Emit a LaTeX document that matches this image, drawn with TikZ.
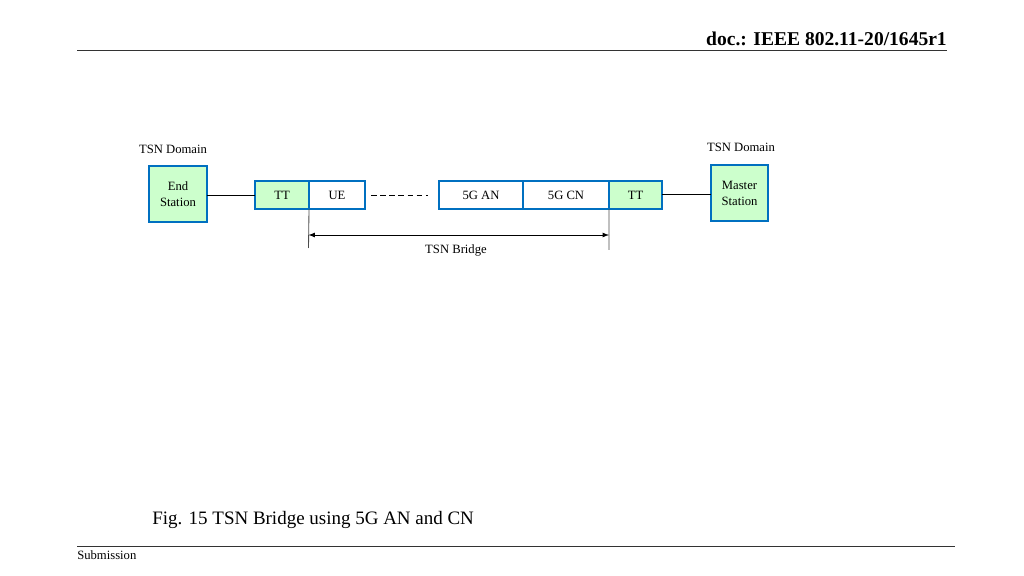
\documentclass[tikz,border=0pt]{standalone}
\usepackage{fontspec}
\setmainfont{Liberation Serif}
\usetikzlibrary{arrows, positioning}

\definecolor{boxblue}{RGB}{0,112,192}
\definecolor{boxgreen}{RGB}{204,255,204}

\begin{document}
\begin{tikzpicture}[
    x=0.025cm, y=-0.025cm,
    station/.style={
        rectangle,
        draw=boxblue,
        fill=boxgreen,
        line width=1.4pt,
        minimum width=1.43cm,
        minimum height=1.38cm,
        align=center,
        inner sep=0pt,
        outer sep=0pt,
        font=\fontsize{9}{11.4}\selectfont
    },
    cell/.style={
        rectangle,
        draw=boxblue,
        fill=white,
        line width=1.4pt,
        minimum height=0.7cm,
        inner sep=0pt,
        outer sep=0pt,
        font=\fontsize{9}{11}\selectfont
    },
    label/.style={
        font=\fontsize{9}{11}\selectfont
    },
    pagetext/.style={
        inner sep=0pt
    }
]
\useasboundingbox (0,0) rectangle (1024,576);

% page header and footer
\node[pagetext, anchor=base east, font=\fontsize{13.9}{16}\selectfont\bfseries] (docid) at (947,46) {doc.: IEEE 802.11-20/1645r1};
\draw[line width=0.6pt, black!80] (77,50.5) -- (947,50.5);
\draw[line width=0.6pt, black!80] (77,546) -- (955,546);
\node[pagetext, anchor=base west, font=\fontsize{9}{11}\selectfont] (submission) at (77,559) {Submission};
\node[pagetext, anchor=base west, font=\fontsize{13.5}{16}\selectfont] (caption) at (152,524) {Fig. 15 TSN Bridge using 5G AN and CN};

% stations
\node[station] (endst) at (178,194) {End\\Station};
\node[station] (master) at (739.5,193) {Master\\Station};
\node[label] (domleft) at (173,149) {TSN Domain};
\node[label] (domright) at (741,147) {TSN Domain};

% bridge cells
\node[cell, fill=boxgreen, minimum width=1.35cm] (ttl) at (282,195) {TT};
\node[cell, minimum width=1.4cm, right=0pt of ttl] (ue) {UE};
\node[cell, minimum width=2.1cm] (an) at (481,195) {5G AN};
\node[cell, minimum width=2.15cm, right=0pt of an] (cn) {5G CN};
\node[cell, fill=boxgreen, minimum width=1.33cm, right=0pt of cn] (ttr) {TT};

% links
\draw[line width=0.6pt] (endst.east |- ttl.west) -- (ttl.west);
\draw[line width=0.6pt] ([yshift=0.02cm]ttr.east) -- ([yshift=0.02cm]ttr.east -| master.west);
\draw[line width=0.6pt, dash pattern=on 4pt off 2.5pt] ([xshift=0.15cm]ue.east) -- ([xshift=-0.27cm]an.west);

% bridge extent
\coordinate (bl) at (308.5,248);
\coordinate (br) at (609,250);
\coordinate (al) at (308.5,235);
\coordinate (ar) at (609,235);
\draw[line width=0.6pt, black!70] (ttl.south east) -- (bl);
\draw[line width=0.6pt, black!70] (cn.south east) -- (br);
\draw[line width=0.6pt, latex-latex] (al) -- (ar);
\node[label] (bridge) at (456,250) {TSN Bridge};
\end{tikzpicture}
\end{document}
